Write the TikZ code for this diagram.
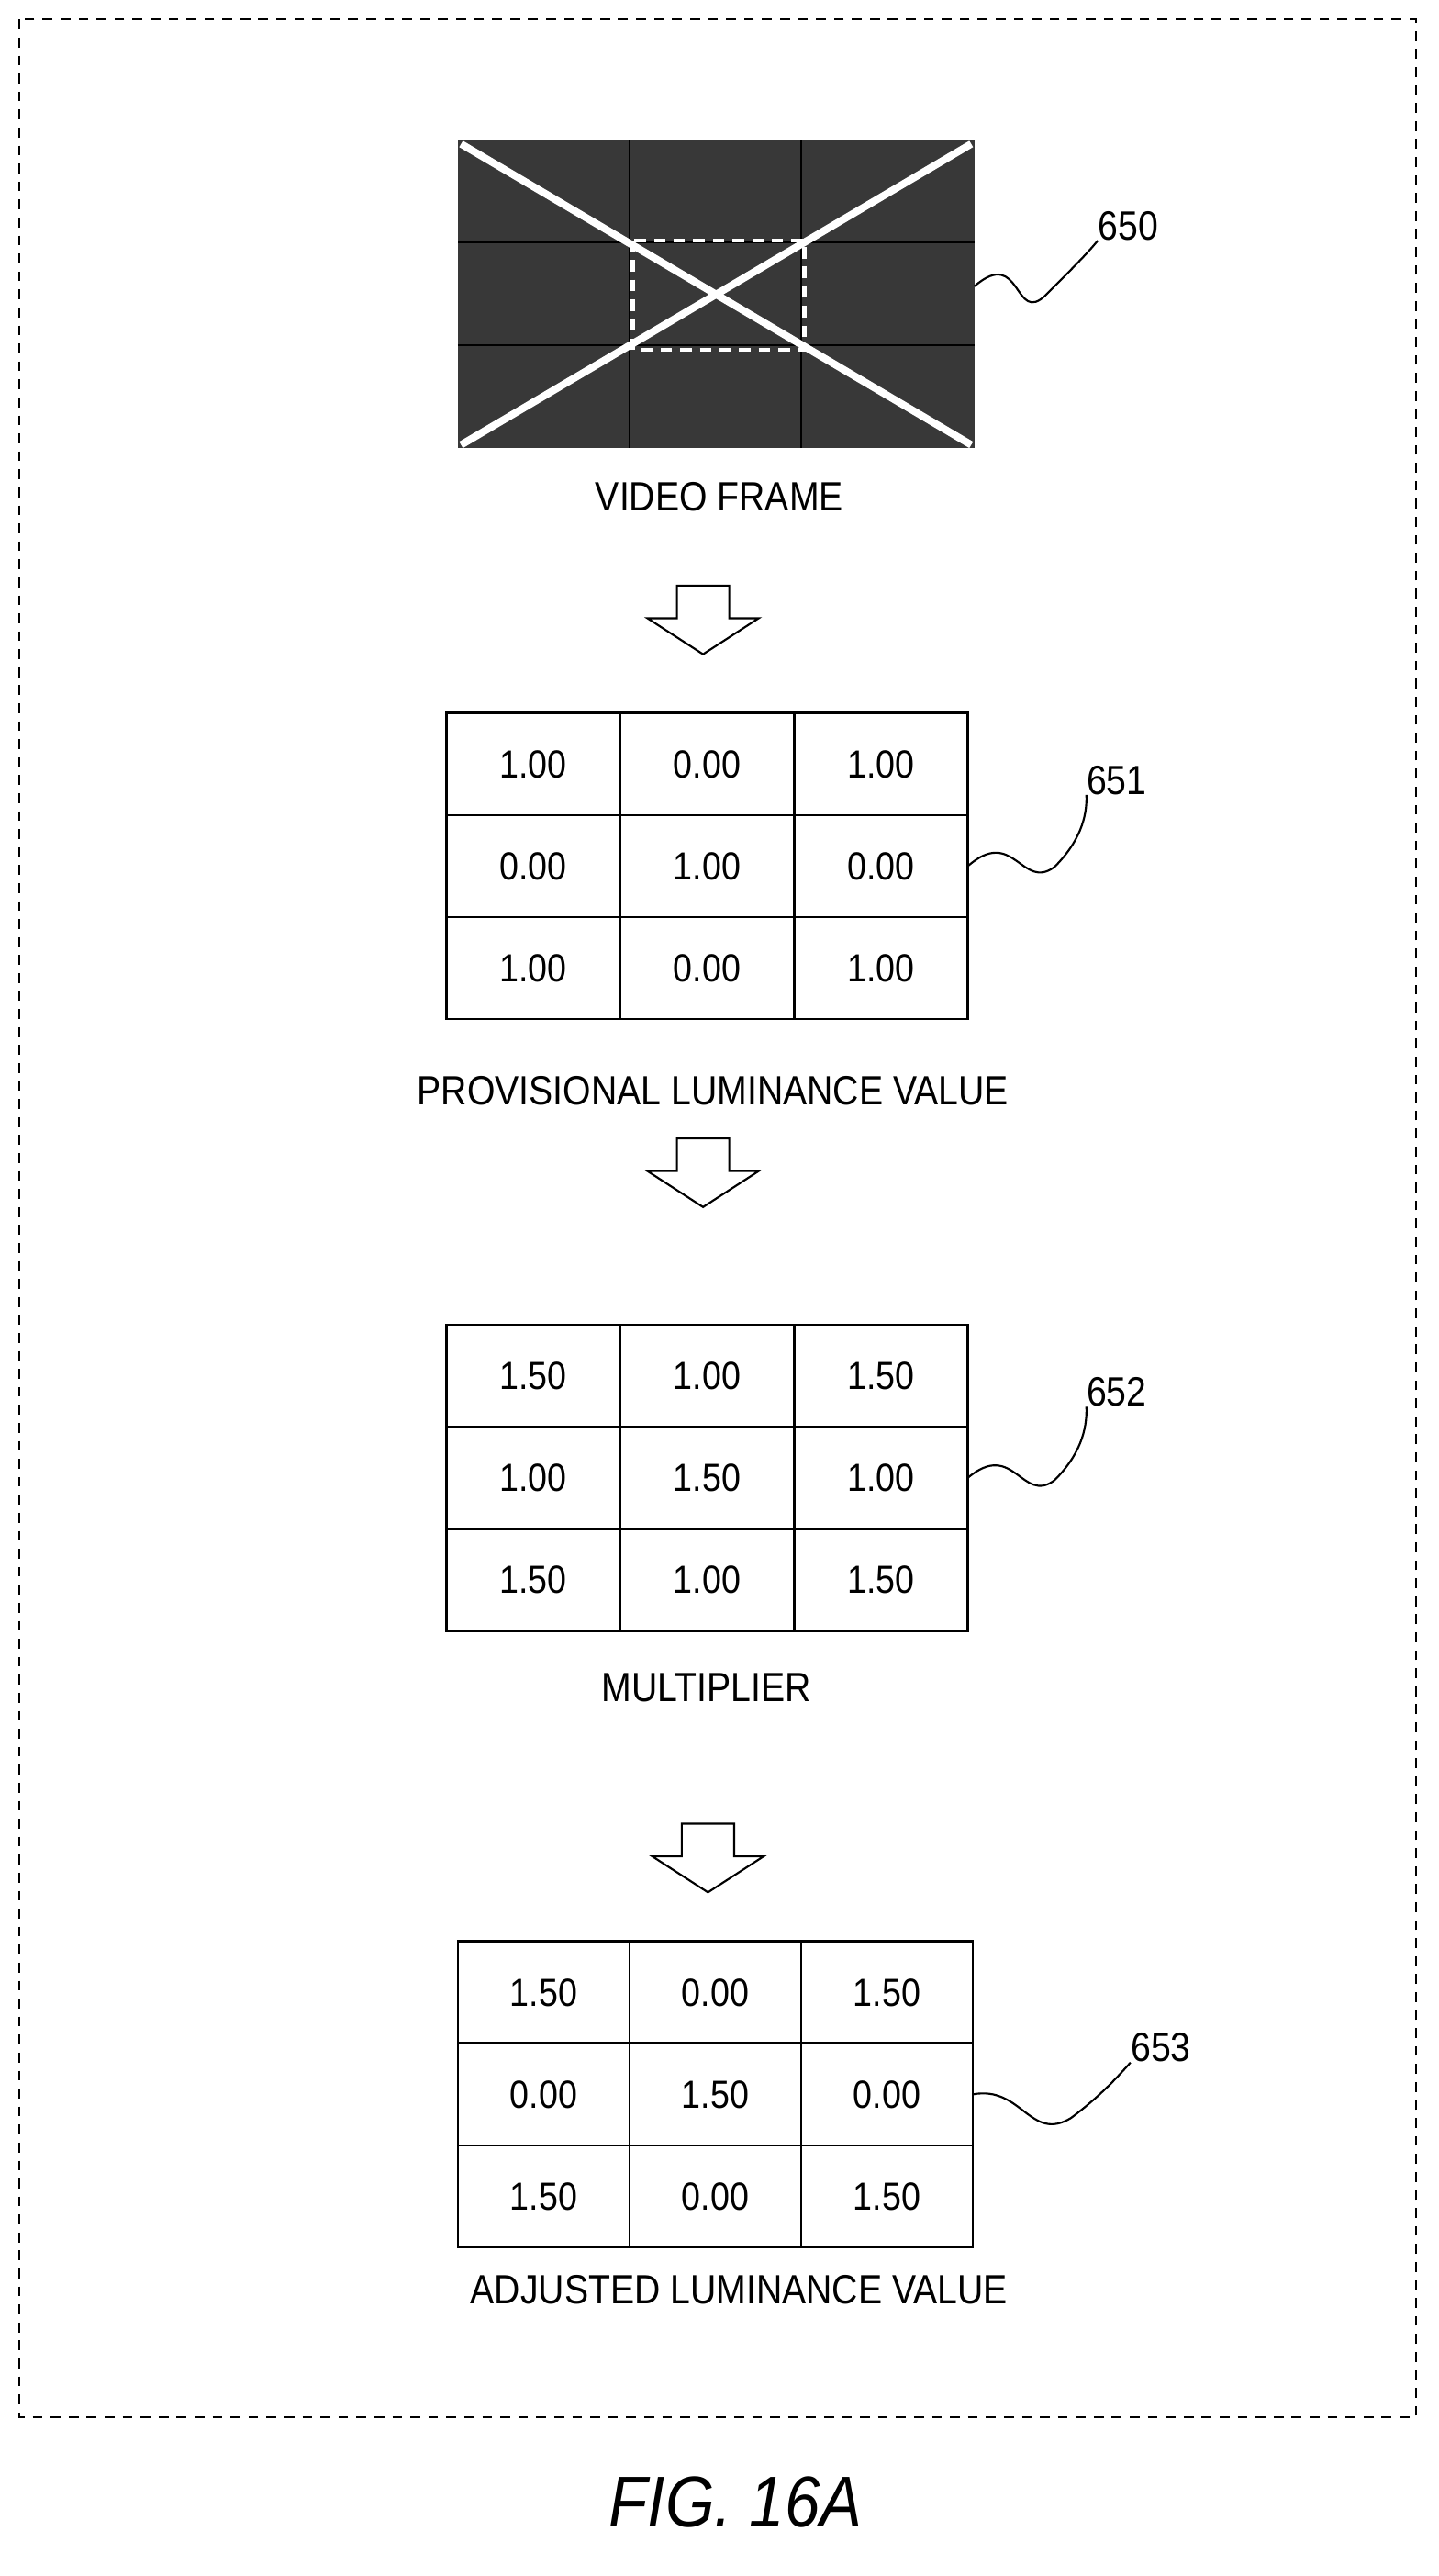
\documentclass[tikz,border=0pt]{standalone}
\usepackage{fontspec}
\setmainfont{Liberation Sans}[FakeStretch=0.88]
\begin{document}
\begin{tikzpicture}[x=1pt,y=-1pt,
  lbl/.style={font=\fontsize{25}{28}\selectfont,inner sep=0},
  num/.style={font=\fontsize{24}{28}\selectfont,inner sep=0},
  sq/.style={line width=1.2pt},
  harrow/.style={draw,line width=1.2pt,fill=white}]
\useasboundingbox (0,0) rectangle (880,1575);
\draw[dashed,line width=1pt,dash pattern=on 6pt off 5pt] (12,12) rectangle (866,1478);
% video frame
\fill[black!78] (280,86) rectangle (596,274);
\draw[black,line width=1.5pt] (385,86)--(385,274) (490,86)--(490,274) (280,148)--(596,148) (280,211)--(596,211);
\draw[white,dashed,line width=2.5pt,dash pattern=on 7pt off 5pt] (387,147) rectangle (492,214);
\draw[white,line width=4.5pt] (282,88)--(594,272) (282,272)--(594,88);
\coordinate (f) at (596,175);
\node[lbl] (vf) at (440,304) {VIDEO FRAME};
\node[lbl] (l650) at (690,138) {650};
\draw[sq] (f) .. controls (625,150) and (620,200) .. (640,180) .. controls (655,165) and (665,155) .. (l650.south west);
% arrows
\newcommand\harr[2]{\draw[harrow] (#1-16,#2) -- (#1+16,#2) -- (#1+16,#2+20) -- (#1+34,#2+20) -- (#1,#2+42) -- (#1-34,#2+20) -- (#1-16,#2+20) -- cycle;}
\harr{430}{358}
\harr{430}{696}
\harr{433}{1115}
% tables
\newcommand\tbl[9]{}
\def\grid#1#2#3#4#5#6{% x0 y0 x1 y1 name values
  \draw[line width=1.5pt] (#1,#2) rectangle (#3,#4);
  \draw[line width=1.5pt] ({#1+(#3-#1)/3},#2)--({#1+(#3-#1)/3},#4) ({#1+2*(#3-#1)/3},#2)--({#1+2*(#3-#1)/3},#4)
     (#1,{#2+(#4-#2)/3})--(#3,{#2+(#4-#2)/3}) (#1,{#2+2*(#4-#2)/3})--(#3,{#2+2*(#4-#2)/3});
  \foreach \v [count=\i from 0] in {#6}{
    \pgfmathtruncatemacro\c{mod(\i,3)}\pgfmathtruncatemacro\r{div(\i,3)}
    \node[num] at ({#1+(#3-#1)*(2*\c+1)/6},{#2+(#4-#2)*(2*\r+1)/6}) {\v};}
  \coordinate (#5) at (#3,{(#2+#4)/2});}
\grid{273}{436}{592}{623}{t1}{1.00,0.00,1.00,0.00,1.00,0.00,1.00,0.00,1.00}
\node[lbl] (c1) at (436,667) {PROVISIONAL LUMINANCE VALUE};
\node[lbl] (l651) at (683,477) {651};
\draw[sq] (t1) .. controls (620,505) and (625,545) .. (645,530) .. controls (660,515) and (665,500) .. (l651.south west);
\grid{273}{810}{592}{997}{t2}{1.50,1.00,1.50,1.00,1.50,1.00,1.50,1.00,1.50}
\node[lbl] (c2) at (432,1032) {MULTIPLIER};
\node[lbl] (l652) at (683,851) {652};
\draw[sq] (t2) .. controls (620,880) and (625,920) .. (645,905) .. controls (660,890) and (665,875) .. (l652.south west);
\grid{280}{1187}{595}{1374}{t3}{1.50,0.00,1.50,0.00,1.50,0.00,1.50,0.00,1.50}
\node[lbl] (c3) at (452,1400) {ADJUSTED LUMINANCE VALUE};
\node[lbl] (l653) at (710,1252) {653};
\draw[sq] (t3) .. controls (625,1275) and (630,1310) .. (655,1295) .. controls (675,1280) and (685,1268) .. (l653.south west);
\node[font=\fontsize{44}{50}\selectfont\itshape,inner sep=0] (fig) at (450,1530) {FIG. 16A};
\end{tikzpicture}
\end{document}
